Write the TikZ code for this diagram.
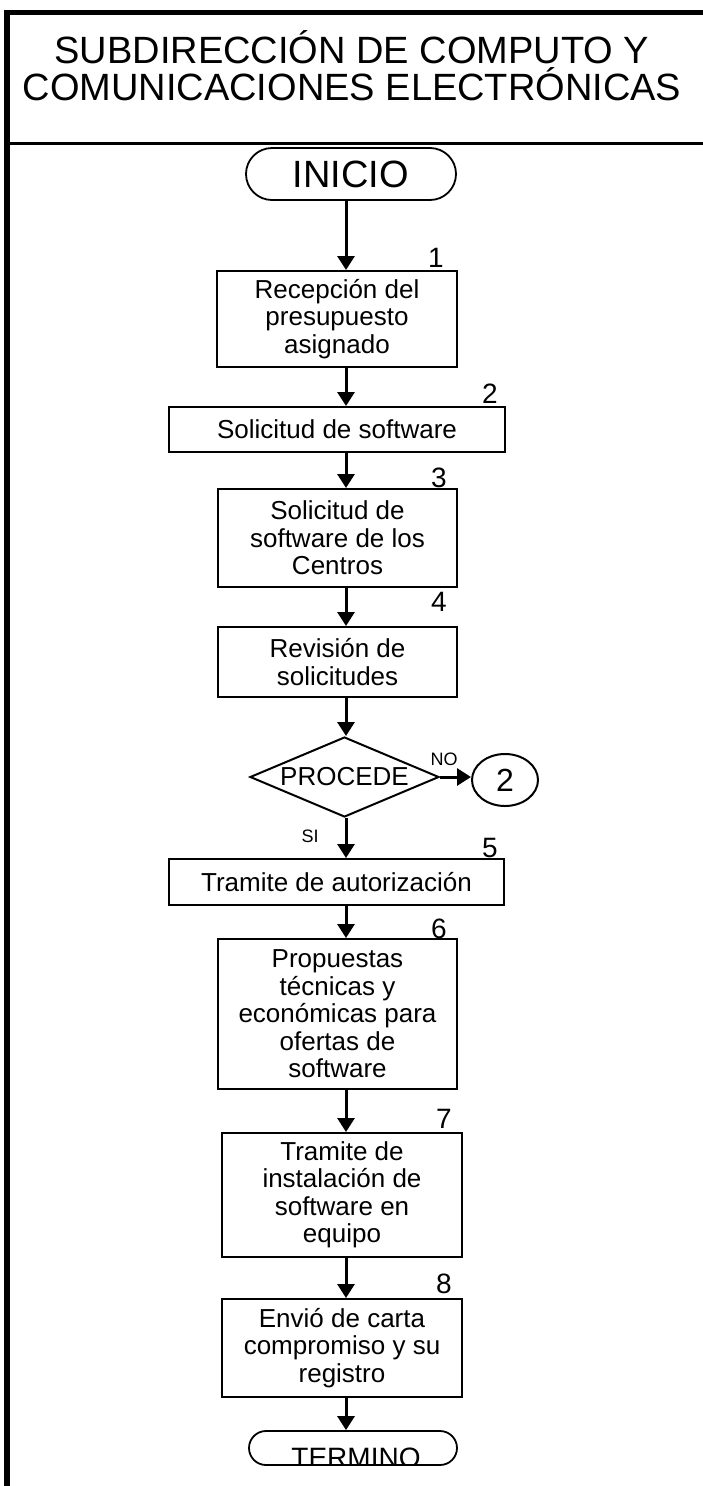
\documentclass[tikz,border=0pt]{standalone}
\usepackage{fontspec}
\setmainfont{Liberation Sans}
\usetikzlibrary{arrows.meta,positioning,calc,shapes.geometric}
\tikzset{
  paso/.style={rectangle, draw=black, line width=2pt, align=center, inner sep=0pt, font=\fontsize{26}{27.5}\selectfont},
  terminal/.style={rectangle, rounded corners=#1, draw=black, line width=1.8pt, inner sep=0pt},
  decision/.style={diamond, aspect=2.36, draw=black, line width=2pt, inner sep=0pt, minimum width=189pt, minimum height=80pt, font=\fontsize{26}{26}\selectfont},
  conector/.style={ellipse, draw=black, line width=2pt, minimum width=66pt, minimum height=52pt, inner sep=0pt, font=\fontsize{32}{32}\selectfont},
  num/.style={anchor=base east, inner sep=0pt, font=\fontsize{28}{28}\selectfont},
  etiq/.style={inner sep=0pt, font=\fontsize{18}{18}\selectfont},
  flecha/.style={-{Triangle[length=14pt,width=17pt]}, line width=3pt}
}

\begin{document}
\begin{tikzpicture}[x=1pt, y=-1pt]
  \useasboundingbox (0,0) rectangle (703,1486);
  \coordinate (eje) at (346,0);
  % marco
  \draw[line width=6pt] (7,9.5) -- (7,1486);
  \draw[line width=5pt] (4,12) -- (703,12);
  \draw[line width=3pt] (7,143) -- (703,143);
  \node[align=center, font=\fontsize{38}{37}\selectfont] (titulo) at (352,66) {SUBDIRECCIÓN DE COMPUTO Y\\COMUNICACIONES ELECTRÓNICAS};

  \node[terminal=26pt, minimum width=210pt, minimum height=52pt, font=\fontsize{38}{38}\selectfont] (inicio) at (351,174) {INICIO};

  \node[paso, minimum width=240pt, minimum height=96pt] (p1) at (337,319) {Recepción del\\presupuesto\\asignado};
  \node[num] (n1) at (444,267) {1};
  \node[paso, minimum width=336pt, minimum height=45pt] (p2) at (337,429.5) {Solicitud de software};
  \node[num] (n2) at (498,403) {2};
  \node[paso, minimum width=239pt, minimum height=98pt] (p3) at (337.5,538) {Solicitud de\\software de los\\Centros};
  \node[num] (n3) at (447,487) {3};
  \node[paso, minimum width=239pt, minimum height=70pt] (p4) at (337.5,662) {Revisión de\\solicitudes};
  \node[num] (n4) at (447,611) {4};

  \node[decision] (dec) at (344.5,777) {PROCEDE};
  \node[conector] (c2) at (505,780) {2};
  \node[etiq] (no) at (444,759) {NO};
  \node[etiq] (si) at (310,836) {SI};

  \node[paso, minimum width=335pt, minimum height=46pt] (p5) at (336.5,882) {Tramite de autorización};
  \node[num] (n5) at (498,857) {5};
  \node[paso, minimum width=239pt, minimum height=150pt] (p6) at (337.5,1014) {Propuestas\\técnicas y\\económicas para\\ofertas de\\software};
  \node[num] (n6) at (447,938) {6};
  \node[paso, minimum width=240pt, minimum height=124pt] (p7) at (342,1195) {Tramite de\\instalación de\\software en\\equipo};
  \node[num] (n7) at (452,1128) {7};
  \node[paso, minimum width=240pt, minimum height=98pt] (p8) at (342,1348) {Envió de carta\\compromiso y su\\registro};
  \node[num] (n8) at (452,1293) {8};

  \node[terminal=17pt, minimum width=208pt, minimum height=34pt,
    path picture={\node[anchor=base, inner sep=0pt, font=\fontsize{28}{28}\selectfont] at ([xshift=3pt,yshift=-2pt]path picture bounding box.south) {TERMINO};}] (fin) at (353,1448) {};

  \draw[flecha] (inicio.south -| eje) -- (p1.north -| eje);
  \draw[flecha] (p1.south -| eje) -- (p2.north -| eje);
  \draw[flecha] (p2.south -| eje) -- (p3.north -| eje);
  \draw[flecha] (p3.south -| eje) -- (p4.north -| eje);
  \draw[flecha] (p4.south -| eje) -- (dec.north -| eje);
  \draw[flecha] (dec.east) -- (dec.east -| c2.west);
  \draw[flecha] (dec.south -| eje) -- (p5.north -| eje);
  \draw[flecha] (p5.south -| eje) -- (p6.north -| eje);
  \draw[flecha] (p6.south -| eje) -- (p7.north -| eje);
  \draw[flecha] (p7.south -| eje) -- (p8.north -| eje);
  \draw[flecha] (p8.south -| eje) -- (fin.north -| eje);
\end{tikzpicture}
\end{document}
